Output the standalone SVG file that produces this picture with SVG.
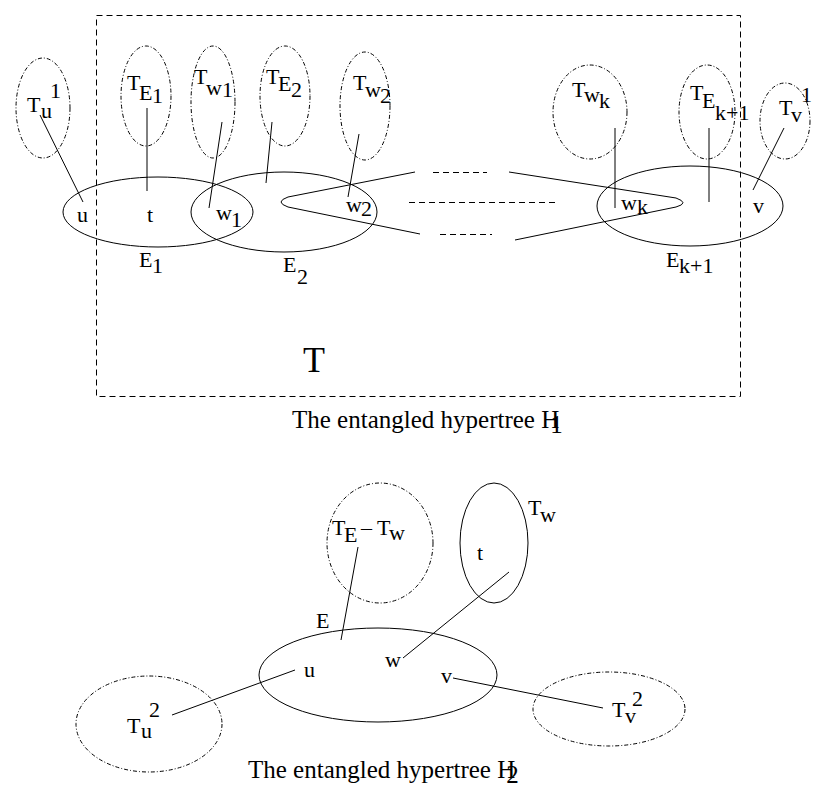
<svg xmlns="http://www.w3.org/2000/svg" width="824" height="799" viewBox="0 0 824 799">
<style>
  .tree { fill: none; stroke: #000; stroke-width: 1; stroke-dasharray: 4 2 1 2; }
  .edge { fill: none; stroke: #000; stroke-width: 1; }
  .ln { fill: none; stroke: #000; stroke-width: 1; }
  .dash { fill: none; stroke: #000; stroke-width: 1; stroke-dasharray: 6 4; }
  text { font-family: "Liberation Serif", "Times New Roman", serif; font-size: 22px; fill: #000; }
  .cap { font-size: 25px; }
  .big { font-size: 36px; }
</style>
<rect width="824" height="799" fill="#fff"/>

<!-- top diagram -->
<rect id="T-box" class="dash" x="96.5" y="15.5" width="644" height="381"/>
<text class="big" x="303" y="372">T</text>

<g id="Tu1">
  <ellipse class="tree" cx="43" cy="108" rx="27" ry="50"/>
  <text x="27" y="112">T<tspan x="41" y="118">u</tspan><tspan x="50" y="98">1</tspan></text>
</g>
<g id="TE1">
  <ellipse class="tree" cx="146" cy="96" rx="25" ry="50"/>
  <text x="127" y="90">T<tspan x="139" y="100">E</tspan><tspan x="152" y="103">1</tspan></text>
</g>
<g id="Tw1">
  <ellipse class="tree" cx="213" cy="102" rx="22" ry="56"/>
  <text x="194" y="84">T<tspan x="206" y="95">w</tspan><tspan x="222" y="97">1</tspan></text>
</g>
<g id="TE2">
  <ellipse class="tree" cx="285" cy="96" rx="25" ry="50"/>
  <text x="266" y="84">T<tspan x="278" y="91">E</tspan><tspan x="291" y="97">2</tspan></text>
</g>
<g id="Tw2">
  <ellipse class="tree" cx="365" cy="106" rx="25" ry="54"/>
  <text x="353" y="90">T<tspan x="365" y="97">w</tspan><tspan x="380" y="103">2</tspan></text>
</g>
<g id="Twk">
  <ellipse class="tree" cx="590" cy="112" rx="37" ry="47"/>
  <text x="572" y="97">T<tspan x="584" y="102">w</tspan><tspan x="599" y="108">k</tspan></text>
</g>
<g id="TEk1">
  <ellipse class="tree" cx="707" cy="112" rx="28" ry="47"/>
  <text x="690" y="100">T<tspan x="702" y="108">E</tspan><tspan x="715" y="120">k+1</tspan></text>
</g>
<g id="Tv1">
  <ellipse class="tree" cx="785" cy="121" rx="25" ry="38"/>
  <text x="779" y="115">T<tspan x="791" y="122">v</tspan><tspan x="801" y="102">1</tspan></text>
</g>

<g id="E1">
  <ellipse class="edge" cx="158" cy="212" rx="95" ry="35"/>
  <text x="139" y="267">E<tspan x="152" y="273">1</tspan></text>
</g>
<g id="E2">
  <ellipse class="edge" cx="284" cy="212" rx="93" ry="40"/>
  <text x="283" y="272">E<tspan x="297" y="284">2</tspan></text>
</g>
<g id="Ek1">
  <ellipse class="edge" cx="690" cy="206" rx="93" ry="40"/>
  <text x="666" y="267">E<tspan x="679" y="273">k+1</tspan></text>
</g>
<g id="hairpins">
  <path class="ln" d="M415,172 L288,197 Q274,202 288,207 L420,234"/>
  <path class="ln" d="M509,172 L676,198 Q690,203 676,207 L515,240"/>
  <line class="dash" x1="433" y1="172.5" x2="487" y2="172.5"/>
  <line class="dash" x1="409" y1="202.5" x2="559" y2="202.5"/>
  <line class="dash" x1="440" y1="234.5" x2="492" y2="234.5"/>
</g>
<g id="vertices-top">
  <text x="77" y="222">u</text>
  <text x="147" y="222">t</text>
  <text x="216" y="220">w<tspan x="231" y="227">1</tspan></text>
  <text x="346" y="212">w<tspan x="361" y="216">2</tspan></text>
  <text x="621" y="210">w<tspan x="637" y="214">k</tspan></text>
  <text x="753" y="213">v</text>
</g>
<g id="connectors-top">
  <line class="ln" x1="40" y1="115" x2="83" y2="202"/>
  <line class="ln" x1="147" y1="108" x2="147" y2="191"/>
  <line class="ln" x1="222" y1="122" x2="209" y2="208"/>
  <line class="ln" x1="272" y1="122" x2="266" y2="183"/>
  <line class="ln" x1="359" y1="134" x2="348" y2="197"/>
  <line class="ln" x1="615" y1="128" x2="615" y2="208"/>
  <line class="ln" x1="709" y1="128" x2="709" y2="202"/>
  <line class="ln" x1="784" y1="128" x2="753" y2="190"/>
</g>
<text class="cap" x="292" y="428">The entangled hypertree H<tspan dx="-9" dy="5">1</tspan></text>

<!-- bottom diagram -->
<g id="TE-Tw">
  <ellipse class="tree" cx="380" cy="543" rx="53" ry="60"/>
  <text x="332" y="535">T<tspan x="344" y="542">E</tspan><tspan x="361" y="535">–</tspan><tspan x="377" y="535">T</tspan><tspan x="389" y="540">w</tspan></text>
</g>
<g id="Tw">
  <ellipse class="edge" cx="494" cy="543" rx="34" ry="60"/>
  <text x="528" y="515">T<tspan x="540" y="522">w</tspan></text>
  <text x="477" y="560">t</text>
</g>
<g id="E">
  <ellipse class="edge" cx="378" cy="675" rx="119" ry="47"/>
  <text x="316" y="628">E</text>
  <text x="304" y="677">u</text>
  <text x="385" y="667">w</text>
  <text x="441" y="683">v</text>
</g>
<g id="Tu2">
  <ellipse class="tree" cx="149" cy="724" rx="73" ry="48"/>
  <text x="127" y="733">T<tspan x="141" y="738">u</tspan><tspan x="149" y="717">2</tspan></text>
</g>
<g id="Tv2">
  <ellipse class="tree" cx="609" cy="709" rx="76" ry="37"/>
  <text x="612" y="717">T<tspan x="625" y="723">v</tspan><tspan x="632" y="706">2</tspan></text>
</g>
<g id="connectors-bottom">
  <line class="ln" x1="358" y1="547" x2="341" y2="640"/>
  <line class="ln" x1="403" y1="658" x2="509" y2="572"/>
  <line class="ln" x1="453" y1="678" x2="603" y2="708"/>
  <line class="ln" x1="295" y1="670" x2="172" y2="715"/>
</g>
<text class="cap" x="248" y="778">The entangled hypertree H<tspan dx="-9" dy="5">2</tspan></text>
</svg>
